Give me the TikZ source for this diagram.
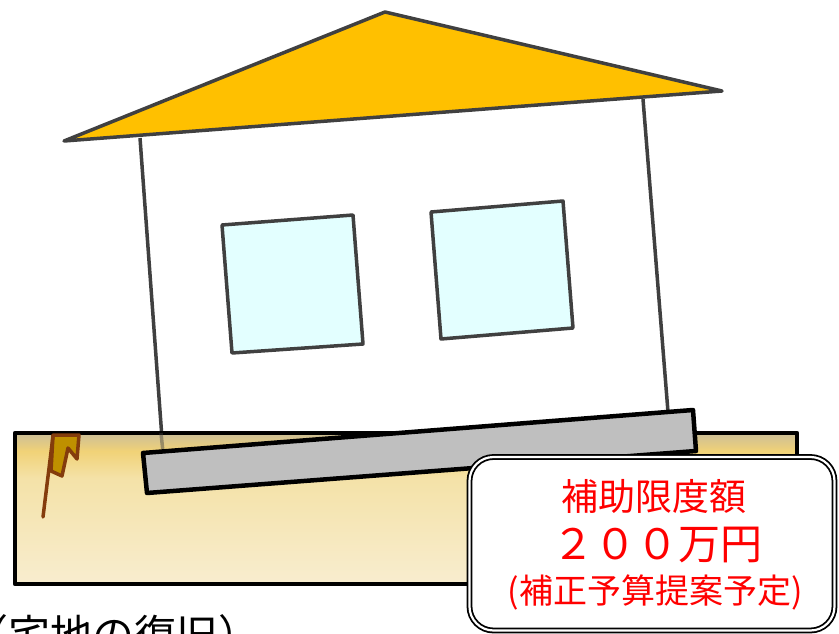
\documentclass[tikz,border=0pt]{standalone}
\usepackage{fontspec}
\setmainfont{Noto Sans CJK JP}
\definecolor{roofc}{HTML}{FFC000}
\definecolor{edgec}{HTML}{404040}
\definecolor{glassc}{HTML}{E3FFFF}
\definecolor{slabc}{HTML}{BFBFBF}
\definecolor{crackfill}{HTML}{BF9000}
\definecolor{crackedge}{HTML}{843C0C}
\definecolor{gtop}{HTML}{CBBE97}
\definecolor{ggold}{HTML}{F1D277}
\definecolor{gmid}{HTML}{F4E2A8}
\definecolor{gbot}{HTML}{F8EDCF}
\pgfdeclareverticalshading{groundshade}{100bp}{%
  color(0bp)=(gbot); color(25bp)=(gbot); color(60bp)=(gmid);
  color(69bp)=(ggold); color(75bp)=(gtop); color(100bp)=(gtop)}
\tikzset{
  outline/.style={draw=edgec, line width=3.5pt, line join=round},
  heavy/.style={draw=black, line width=4.5pt, line join=round},
  redtext/.style={text=red, inner sep=0pt},
}
\begin{document}
\begin{tikzpicture}[x=1pt, y=-1pt]
\useasboundingbox (0,0) rectangle (839,634);

% house walls
\path[fill=white] (140,138) -- (643,99) -- (668,412) -- (163,452) -- cycle;
\draw[outline] (140,138) -- (163,452);
\draw[outline] (643,99) -- (668,412);

% ground block
\path[shading=groundshade] (15,433) rectangle (797,584);
\draw[heavy] (15,433) rectangle (797,584);
\draw[edgec, line width=3.5pt, opacity=0.45] (161,433) -- (163,452);

% tilted foundation slab
\draw[heavy, fill=slabc] (143,453) -- (693,410) -- (696,451) -- (147,493) -- cycle;

% windows
\draw[outline, fill=glassc] (222,225) -- (353,215) -- (363,344) -- (232,353) -- cycle;
\draw[outline, fill=glassc] (431,212) -- (563,201) -- (573,328) -- (441,339) -- cycle;

% roof
\draw[outline, fill=roofc] (64,141) -- (385,12) -- (722,91) -- cycle;

% crack in the ground
\draw[crackedge, line width=3.5pt, line join=round, line cap=round, fill=crackfill]
  (53,435) -- (79,435) -- (77,459) -- (68,448) -- (62,476) -- (51,471) -- cycle;
\draw[crackedge, line width=3.5pt, line cap=round] (53,436) -- (43,517);

% subsidy callout
\draw[draw=black, line width=1.8pt, double=white, double distance=2.2pt,
      fill=white, rounded corners=24pt] (469.5,457) rectangle (834.5,630.5);
\node[redtext, font=\fontsize{37}{40}\selectfont] (l1) at (654,496) {補助限度額};
\node[redtext, font=\fontsize{42}{44}\selectfont] (l2) at (657,545) {２００万円};
\node[redtext, font=\fontsize{34}{36}\selectfont] (l3) at (655,592) {(補正予算提案予定)};

% caption below the ground
\node[inner sep=0pt, anchor=base west, font=\fontsize{42}{44}\selectfont] (cap) at (-34,650) {（宅地の復旧）};
\end{tikzpicture}
\end{document}
